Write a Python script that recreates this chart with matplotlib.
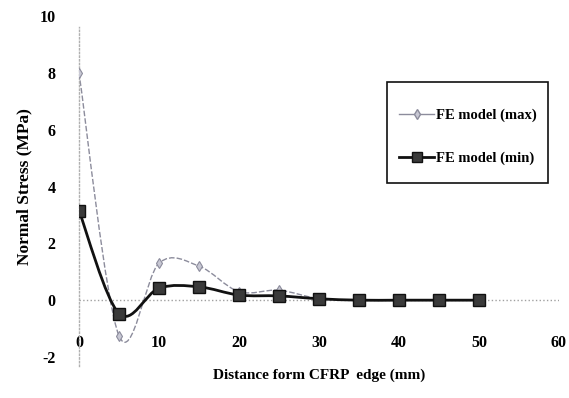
import matplotlib
matplotlib.use("Agg")
import matplotlib.pyplot as plt
import numpy as np
from matplotlib.path import Path
from matplotlib.patches import PathPatch, Rectangle
from matplotlib.lines import Line2D

# Normal stress along the bonded length, FE model envelope
distance_mm = [0, 5, 10, 15, 20, 25, 30, 35, 40, 45, 50]
stress_max = [8.0, -1.25, 1.3, 1.2, 0.3, 0.35, 0.05, 0.0, 0.0, 0.0, 0.0]
stress_min = [3.15, -0.47, 0.42, 0.47, 0.18, 0.15, 0.05, 0.0, 0.0, 0.0, 0.0]

x_ticks = [0, 10, 20, 30, 40, 50, 60]
y_ticks = [-2, 0, 2, 4, 6, 8, 10]

plt.rcParams["font.family"] = ["Liberation Serif", "DejaVu Serif"]
plt.rcParams["font.weight"] = "bold"


def smooth_path(xs, ys):
    # cubic Bezier segments through every point (Catmull-Rom tangents)
    pts = np.column_stack([xs, ys]).astype(float)
    verts = [pts[0]]
    codes = [Path.MOVETO]
    n = len(pts)
    for i in range(n - 1):
        p0 = pts[i - 1] if i > 0 else pts[i]
        p1, p2 = pts[i], pts[i + 1]
        p3 = pts[i + 2] if i + 2 < n else pts[i + 1]
        c1 = p1 + (p2 - p0) / 6.0
        c2 = p2 - (p3 - p1) / 6.0
        verts += [c1, c2, p2]
        codes += [Path.CURVE4] * 3
    return Path(verts, codes)


fig = plt.figure(figsize=(5.69, 3.98), dpi=100)
ax = fig.add_axes([0.1388, 0.103, 0.8436, 0.8568])
ax.set_xlim(0, 60)
ax.set_ylim(-2, 10)

for side in ["top", "right", "bottom"]:
    ax.spines[side].set_visible(False)
ax.spines["left"].set_linestyle(":")
ax.spines["left"].set_color("#b0b0b0")
ax.spines["left"].set_linewidth(1.0)
ax.spines["left"].set_bounds(-2.3, 9.6)
ax.axhline(0, color="#a0a0a0", lw=1.0, ls=":", zorder=1)

max_color = "#8c8c9c"
ax.add_patch(PathPatch(smooth_path(distance_mm, stress_max), fill=False,
                       edgecolor=max_color, lw=1.0, ls=(0, (4, 1.5)), zorder=2))
ax.plot(distance_mm, stress_max, ls="none", marker="d", ms=5,
        mfc="#c8c8d4", mec=max_color, mew=0.8, zorder=3)

ax.add_patch(PathPatch(smooth_path(distance_mm, stress_min), fill=False,
                       edgecolor="#111111", lw=2.0, zorder=4))
ax.plot(distance_mm, stress_min, ls="none", marker="s", ms=8,
        mfc="#3a3a3a", mec="#111111", mew=1.0, zorder=5)

ax.set_xticks(x_ticks)
ax.set_yticks(y_ticks)
ax.set_xticklabels([str(t) for t in x_ticks])
ax.set_yticklabels([str(t) for t in y_ticks])
ax.tick_params(axis="both", length=0, labelsize=11.5)
ax.tick_params(axis="y", pad=17)
ax.tick_params(axis="x", pad=-16)

ax.set_xlabel("Distance form CFRP  edge (mm)", fontsize=11, fontweight="bold",
              labelpad=8)
ax.set_ylabel("Normal Stress (MPa)", fontsize=12.5, fontweight="bold", labelpad=5)

# legend box: wider vertical padding than horizontal, so the frame is drawn apart
ax.add_patch(Rectangle((0.642, 0.51), 0.335, 0.296, transform=ax.transAxes,
                       facecolor="white", edgecolor="#111111", lw=1.2,
                       zorder=6, clip_on=False))
handles = [
    Line2D([], [], color=max_color, lw=1.0, marker="d", ms=5,
           mfc="#c8c8d4", mec=max_color),
    Line2D([], [], color="#111111", lw=2.0, marker="s", ms=7,
           mfc="#3a3a3a", mec="#111111"),
]
leg = ax.legend(handles, ["FE model (max)", "FE model (min)"],
                loc="center left", bbox_to_anchor=(0.652, 0.645),
                fontsize=10.5, frameon=False, handlelength=2.4,
                handletextpad=0.15, labelspacing=2.0, borderpad=0)
leg.set_zorder(7)

fig.savefig("out.png", dpi=100)
